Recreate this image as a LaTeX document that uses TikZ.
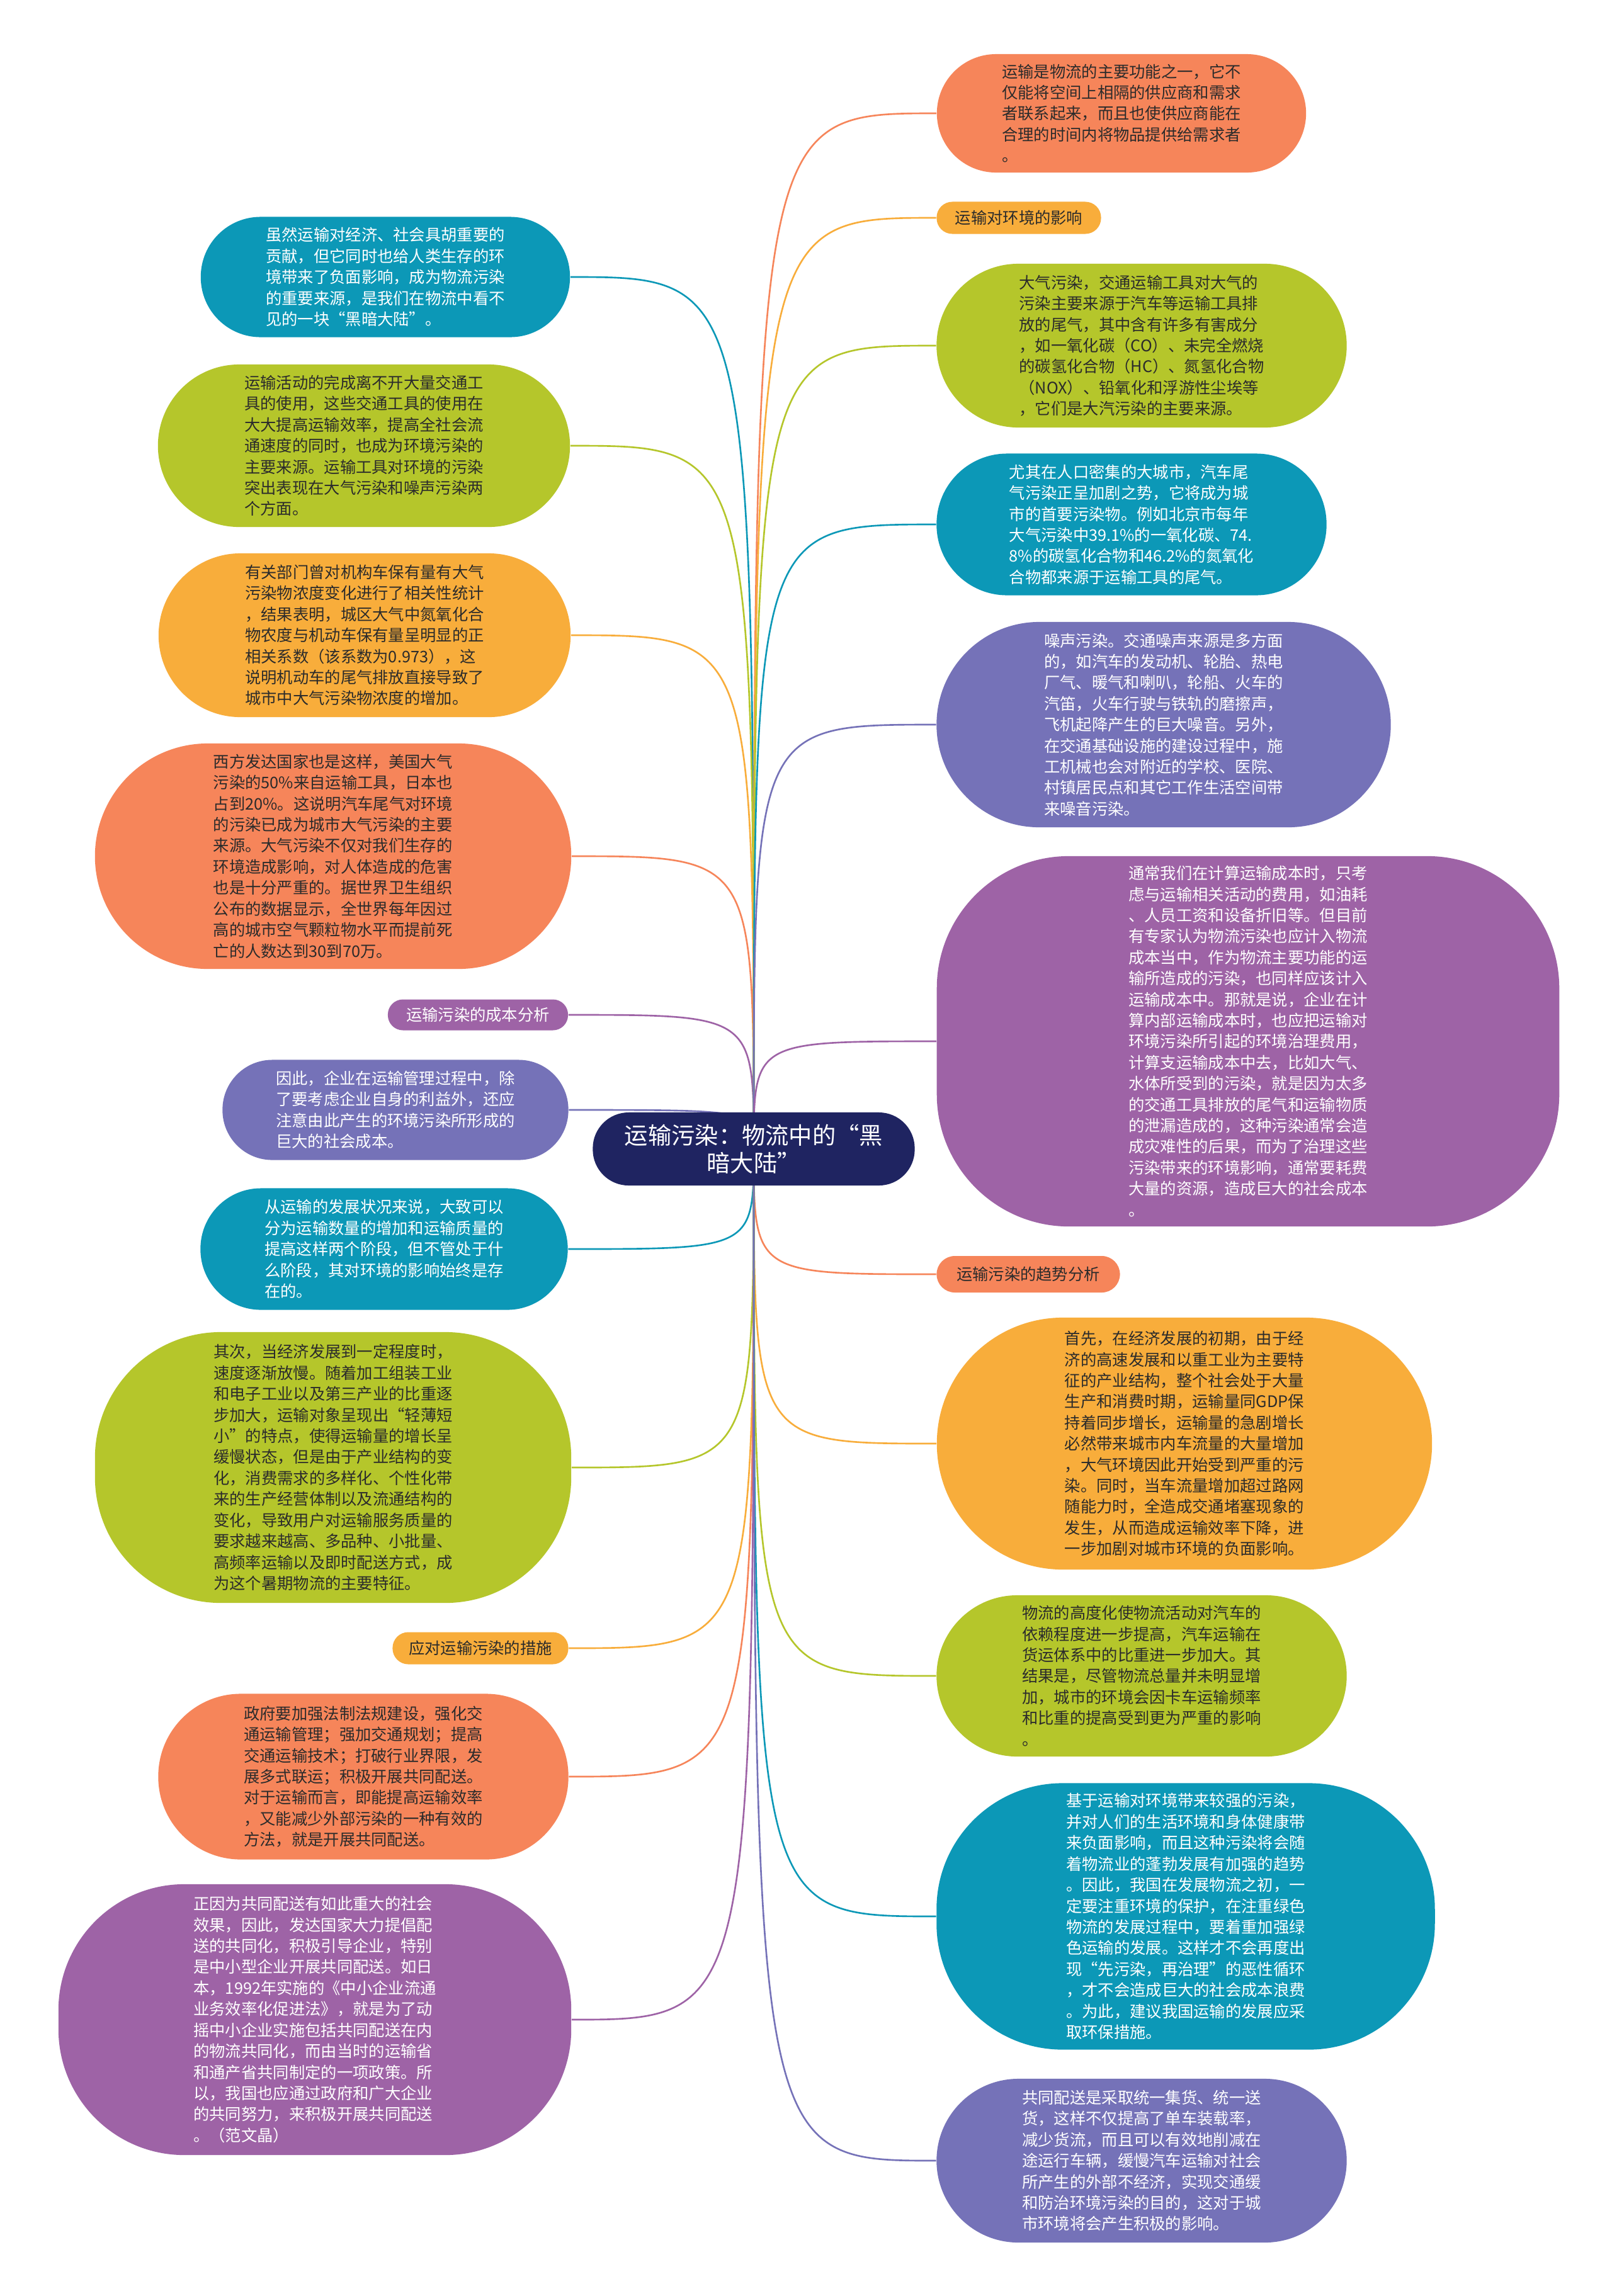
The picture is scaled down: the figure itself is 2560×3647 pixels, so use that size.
\documentclass[tikz,border=0pt]{standalone}
\usepackage{fontspec}
\setmainfont{Noto Sans CJK SC}
\usetikzlibrary{backgrounds}
\definecolor{cTeal}{HTML}{0C98B7}
\definecolor{cLime}{HTML}{B5C62B}
\definecolor{cGold}{HTML}{F8AD3B}
\definecolor{cSalmon}{HTML}{F6855A}
\definecolor{cPurple}{HTML}{9E63A6}
\definecolor{cIndigo}{HTML}{7572B8}
\definecolor{cNavy}{HTML}{1F2461}
\definecolor{cDark}{HTML}{2B2B2B}
\begin{document}
\begin{tikzpicture}[x=0.01cm,y=-0.01cm,
  bx/.style={inner sep=0pt, align=left, font={\fontsize{7.2pt}{9.5pt}\selectfont}},
  dk/.style={text=cDark},
  wt/.style={text=white},
  lk/.style={line width=0.75pt}]
\useasboundingbox (0,0) rectangle (2560,3647);

% root
\node[inner sep=0pt, align=center, fill=cNavy, text=white, minimum width=5.11cm, minimum height=1.16cm, rounded corners=0.57cm, font={\fontsize{10.6pt}{12.6pt}\selectfont}] (root) at (1197,1825) {运输污染：物流中的“黑\\暗大陆”};

% left column
\node[bx, wt, fill=cTeal, minimum width=5.86cm, minimum height=1.91cm, rounded corners=0.95cm] (L1) at (612,440) {虽然运输对经济、社会具胡重要的\\贡献，但它同时也给人类生存的环\\境带来了负面影响，成为物流污染\\的重要来源，是我们在物流中看不\\见的一块“黑暗大陆”。};

\node[bx, dk, fill=cLime, minimum width=6.54cm, minimum height=2.58cm, rounded corners=1.29cm] (L2) at (578,708) {运输活动的完成离不开大量交通工\\具的使用，这些交通工具的使用在\\大大提高运输效率，提高全社会流\\通速度的同时，也成为环境污染的\\主要来源。运输工具对环境的污染\\突出表现在大气污染和噪声污染两\\个方面。};

\node[bx, dk, fill=cGold, minimum width=6.54cm, minimum height=2.60cm, rounded corners=1.30cm] (L3) at (579,1009) {有关部门曾对机构车保有量有大气\\污染物浓度变化进行了相关性统计\\，结果表明，城区大气中氮氧化合\\物农度与机动车保有量呈明显的正\\相关系数（该系数为0.973），这\\说明机动车的尾气排放直接导致了\\城市中大气污染物浓度的增加。};

\node[bx, dk, fill=cSalmon, minimum width=7.56cm, minimum height=3.58cm, rounded corners=1.79cm] (L4) at (529,1360) {西方发达国家也是这样，美国大气\\污染的50\%来自运输工具，日本也\\占到20\%。这说明汽车尾气对环境\\的污染已成为城市大气污染的主要\\来源。大气污染不仅对我们生存的\\环境造成影响，对人体造成的危害\\也是十分严重的。据世界卫生组织\\公布的数据显示，全世界每年因过\\高的城市空气颗粒物水平而提前死\\亡的人数达到30到70万。};

\node[bx, wt, fill=cPurple, minimum width=2.86cm, minimum height=0.49cm, rounded corners=0.24cm] (L5) at (759,1612) {运输污染的成本分析};

\node[bx, wt, fill=cIndigo, minimum width=5.49cm, minimum height=1.59cm, rounded corners=0.79cm] (L6) at (628,1763) {因此，企业在运输管理过程中，除\\了要考虑企业自身的利益外，还应\\注意由此产生的环境污染所形成的\\巨大的社会成本。};

\node[bx, wt, fill=cTeal, minimum width=5.83cm, minimum height=1.93cm, rounded corners=0.96cm] (L7) at (610,1984) {从运输的发展状况来说，大致可以\\分为运输数量的增加和运输质量的\\提高这样两个阶段，但不管处于什\\么阶段，其对环境的影响始终是存\\在的。};

\node[bx, dk, fill=cLime, minimum width=7.56cm, minimum height=4.30cm, rounded corners=2.0cm] (L8) at (529,2331) {其次，当经济发展到一定程度时，\\速度逐渐放慢。随着加工组装工业\\和电子工业以及第三产业的比重逐\\步加大，运输对象呈现出“轻薄短\\小”的特点，使得运输量的增长呈\\缓慢状态，但是由于产业结构的变\\化，消费需求的多样化、个性化带\\来的生产经营体制以及流通结构的\\变化，导致用户对运输服务质量的\\要求越来越高、多品种、小批量、\\高频率运输以及即时配送方式，成\\为这个暑期物流的主要特征。};

\node[bx, dk, fill=cGold, minimum width=2.79cm, minimum height=0.51cm, rounded corners=0.25cm] (L9) at (763,2618) {应对运输污染的措施};

\node[bx, dk, fill=cSalmon, minimum width=6.51cm, minimum height=2.63cm, rounded corners=1.31cm] (L10) at (577,2822) {政府要加强法制法规建设，强化交\\通运输管理；强加交通规划；提高\\交通运输技术；打破行业界限，发\\展多式联运；积极开展共同配送。\\对于运输而言，即能提高运输效率\\，又能减少外部污染的一种有效的\\方法，就是开展共同配送。};

\node[bx, wt, fill=cPurple, minimum width=8.14cm, minimum height=4.30cm, rounded corners=2.0cm] (L11) at (500,3208) {正因为共同配送有如此重大的社会\\效果，因此，发达国家大力提倡配\\送的共同化，积极引导企业，特别\\是中小型企业开展共同配送。如日\\本，1992年实施的《中小企业流通\\业务效率化促进法》，就是为了动\\摇中小企业实施包括共同配送在内\\的物流共同化，而由当时的运输省\\和通产省共同制定的一项政策。所\\以，我国也应通过政府和广大企业\\的共同努力，来积极开展共同配送\\。（范文晶）};

% right column
\node[bx, dk, fill=cSalmon, minimum width=5.86cm, minimum height=1.88cm, rounded corners=0.94cm] (R1) at (1781,180) {运输是物流的主要功能之一，它不\\仅能将空间上相隔的供应商和需求\\者联系起来，而且也使供应商能在\\合理的时间内将物品提供给需求者\\。};

\node[bx, dk, fill=cGold, minimum width=2.61cm, minimum height=0.51cm, rounded corners=0.25cm] (R2) at (1618,346) {运输对环境的影响};

\node[bx, dk, fill=cLime, minimum width=6.51cm, minimum height=2.60cm, rounded corners=1.30cm] (R3) at (1813,549) {大气污染，交通运输工具对大气的\\污染主要来源于汽车等运输工具排\\放的尾气，其中含有许多有害成分\\，如一氧化碳（CO）、未完全燃烧\\的碳氢化合物（HC）、氮氢化合物\\（NOX）、铅氧化和浮游性尘埃等\\，它们是大汽污染的主要来源。};

\node[bx, wt, fill=cTeal, minimum width=6.19cm, minimum height=2.25cm, rounded corners=1.12cm] (R4) at (1797,833) {尤其在人口密集的大城市，汽车尾\\气污染正呈加剧之势，它将成为城\\市的首要污染物。例如北京市每年\\大气污染中39.1\%的一氧化碳、74.\\8\%的碳氢化合物和46.2\%的氮氧化\\合物都来源于运输工具的尾气。};

\node[bx, wt, fill=cIndigo, minimum width=7.21cm, minimum height=3.26cm, rounded corners=1.63cm] (R5) at (1848,1151) {噪声污染。交通噪声来源是多方面\\的，如汽车的发动机、轮胎、热电\\厂气、暖气和喇叭，轮船、火车的\\汽笛，火车行驶与铁轨的磨擦声，\\飞机起降产生的巨大噪音。另外，\\在交通基础设施的建设过程中，施\\工机械也会对附近的学校、医院、\\村镇居民点和其它工作生活空间带\\来噪音污染。};

\node[bx, wt, fill=cPurple, minimum width=9.88cm, minimum height=5.88cm, rounded corners=2.1cm] (R6) at (1982,1654) {通常我们在计算运输成本时，只考\\虑与运输相关活动的费用，如油耗\\、人员工资和设备折旧等。但目前\\有专家认为物流污染也应计入物流\\成本当中，作为物流主要功能的运\\输所造成的污染，也同样应该计入\\运输成本中。那就是说，企业在计\\算内部运输成本时，也应把运输对\\环境污染所引起的环境治理费用，\\计算支运输成本中去，比如大气、\\水体所受到的污染，就是因为太多\\的交通工具排放的尾气和运输物质\\的泄漏造成的，这种污染通常会造\\成灾难性的后果，而为了治理这些\\污染带来的环境影响，通常要耗费\\大量的资源，造成巨大的社会成本\\。};

\node[bx, dk, fill=cSalmon, minimum width=2.91cm, minimum height=0.58cm, rounded corners=0.29cm] (R7) at (1633,2024) {运输污染的趋势分析};

\node[bx, dk, fill=cGold, minimum width=7.86cm, minimum height=4.00cm, rounded corners=2.0cm] (R8) at (1881,2293) {首先，在经济发展的初期，由于经\\济的高速发展和以重工业为主要特\\征的产业结构，整个社会处于大量\\生产和消费时期，运输量同GDP保\\持着同步增长，运输量的急剧增长\\必然带来城市内车流量的大量增加\\，大气环境因此开始受到严重的污\\染。同时，当车流量增加超过路网\\随能力时，全造成交通堵塞现象的\\发生，从而造成运输效率下降，进\\一步加剧对城市环境的负面影响。};

\node[bx, dk, fill=cLime, minimum width=6.51cm, minimum height=2.56cm, rounded corners=1.28cm] (R9) at (1813,2662) {物流的高度化使物流活动对汽车的\\依赖程度进一步提高，汽车运输在\\货运体系中的比重进一步加大。其\\结果是，尽管物流总量并未明显增\\加，城市的环境会因卡车运输频率\\和比重的提高受到更为严重的影响\\。};

\node[bx, wt, fill=cTeal, minimum width=7.91cm, minimum height=4.23cm, rounded corners=2.0cm] (R10) at (1883,3044) {基于运输对环境带来较强的污染，\\并对人们的生活环境和身体健康带\\来负面影响，而且这种污染将会随\\着物流业的蓬勃发展有加强的趋势\\。因此，我国在发展物流之初，一\\定要注重环境的保护，在注重绿色\\物流的发展过程中，要着重加强绿\\色运输的发展。这样才不会再度出\\现“先污染，再治理”的恶性循环\\，才不会造成巨大的社会成本浪费\\。为此，建议我国运输的发展应采\\取环保措施。};

\node[bx, wt, fill=cIndigo, minimum width=6.51cm, minimum height=2.60cm, rounded corners=1.30cm] (R11) at (1813,3432) {共同配送是采取统一集货、统一送\\货，这样不仅提高了单车装载率，\\减少货流，而且可以有效地削减在\\途运行车辆，缓慢汽车运输对社会\\所产生的外部不经济，实现交通缓\\和防治环境污染的目的，这对于城\\市环境将会产生积极的影响。};

\begin{pgfonlayer}{background}
\fill[white] (0,0) rectangle (2560,3647);
\foreach \n/\c in {L1/cTeal, L2/cLime, L3/cGold, L4/cSalmon, L5/cPurple, L6/cIndigo, L7/cTeal, L8/cLime, L9/cGold, L10/cSalmon, L11/cPurple}
  \draw[lk, \c] (root.center) .. controls (root.center |- \n.east) .. (\n.east);
\foreach \n/\c in {R1/cSalmon, R2/cGold, R3/cLime, R4/cTeal, R5/cIndigo, R6/cPurple, R7/cSalmon, R8/cGold, R9/cLime, R10/cTeal, R11/cIndigo}
  \draw[lk, \c] (root.center) .. controls (root.center |- \n.west) .. (\n.west);
\end{pgfonlayer}
\end{tikzpicture}
\end{document}
